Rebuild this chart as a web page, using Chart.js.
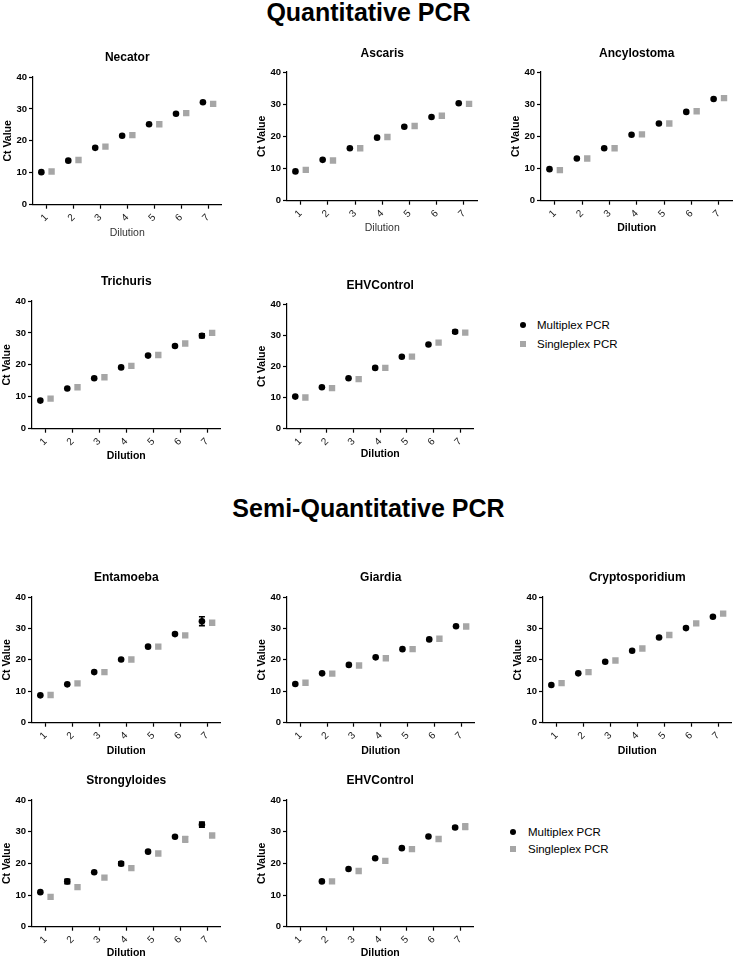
<!DOCTYPE html>
<html>
<head>
<meta charset="utf-8">
<script src="https://cdn.jsdelivr.net/npm/chart.js@4/dist/chart.umd.min.js"></script>
<style>
  html, body { margin: 0; padding: 0; background: #fff; }
  body { width: 737px; height: 959px; position: relative; overflow: hidden; font-family: "Liberation Sans", Arial, sans-serif; }
  canvas { position: absolute; }
  .heading { position: absolute; left: 0; width: 737px; text-align: center; font-weight: bold; font-size: 25px; line-height: 28px; color: #000; }
  .legend { position: absolute; font-size: 11.5px; color: #000; }
  .legend .row { position: absolute; left: 0; white-space: nowrap; height: 14px; line-height: 14px; }
  .legend .mk { position: absolute; top: 4px; width: 6px; height: 6px; }
  .legend .circ { background: #000; border-radius: 50%; }
  .legend .sq { background: #a6a6a6; }
</style>
</head>
<body>
<div class="heading" style="top:-2px;">Quantitative PCR</div>
<div class="heading" style="top:494px;">Semi-Quantitative PCR</div>

<div class="legend" style="left:520px; top:318px;">
  <div class="row" style="top:0px;"><span class="mk circ" style="left:0px;"></span><span style="position:absolute;left:17px;">Multiplex PCR</span></div>
  <div class="row" style="top:19px;"><span class="mk sq" style="left:0px;"></span><span style="position:absolute;left:17px;">Singleplex PCR</span></div>
</div>
<div class="legend" style="left:510px; top:825px;">
  <div class="row" style="top:0px;"><span class="mk circ" style="left:0px;"></span><span style="position:absolute;left:18px;">Multiplex PCR</span></div>
  <div class="row" style="top:17px;"><span class="mk sq" style="left:0px;"></span><span style="position:absolute;left:18px;">Singleplex PCR</span></div>
</div>

<script>
// ---------------- DATA ----------------
const dilutions = [1, 2, 3, 4, 5, 6, 7];
const dilutionLabels = ['1', '2', '3', '4', '5', '6', '7'];
const seriesNames = ['Multiplex PCR', 'Singleplex PCR'];
const yTicks = [0, 10, 20, 30, 40];

const necatorMulti      = [10.2, 13.8, 17.8, 21.6, 25.2, 28.5, 32.1];
const necatorSingle     = [10.4, 14.0, 18.2, 21.8, 25.2, 28.7, 31.6];
const ascarisMulti      = [9.1, 12.7, 16.3, 19.6, 23.0, 26.0, 30.3];
const ascarisSingle     = [9.6, 12.5, 16.3, 19.8, 23.2, 26.4, 30.1];
const ancylostomaMulti  = [9.8, 13.1, 16.3, 20.5, 24.0, 27.6, 31.6];
const ancylostomaSingle = [9.5, 13.1, 16.3, 20.6, 24.0, 27.8, 31.9];
const trichurisMulti    = [8.8, 12.6, 15.8, 19.2, 22.9, 25.9, 29.1];
const trichurisSingle   = [9.4, 13.0, 16.1, 19.7, 23.1, 26.7, 30.0];
const ehvQMulti         = [10.3, 13.3, 16.2, 19.5, 23.1, 27.0, 31.1];
const ehvQSingle        = [10.0, 13.0, 15.9, 19.5, 23.1, 27.6, 30.8];
const entamoebaMulti    = [8.7, 12.2, 16.1, 20.1, 24.2, 28.2, 32.3];
const entamoebaSingle   = [8.8, 12.5, 16.1, 20.1, 24.2, 27.8, 31.8];
const giardiaMulti      = [12.3, 15.7, 18.4, 20.8, 23.4, 26.5, 30.7];
const giardiaSingle     = [12.7, 15.6, 18.2, 20.5, 23.4, 26.7, 30.6];
const cryptoMulti       = [12.0, 15.7, 19.4, 22.9, 27.1, 30.1, 33.7];
const cryptoSingle      = [12.6, 16.1, 19.8, 23.6, 27.9, 31.6, 34.7];
const strongyMulti      = [10.9, 14.3, 17.2, 19.9, 23.7, 28.4, 32.2];
const strongySingle     = [9.4, 12.5, 15.5, 18.5, 23.1, 27.6, 28.8];
const ehvSMulti         = [null, 14.3, 18.2, 21.6, 24.8, 28.5, 31.3];
const ehvSSingle        = [null, 14.3, 17.6, 20.8, 24.5, 27.7, 31.6];

// error bars (SEM); 0 = not visible
const noErr              = [0, 0, 0, 0, 0, 0, 0];
const trichurisMultiErr  = [0, 0, 0, 0, 0, 0, 0.6];
const ehvQMultiErr       = [0, 0, 0, 0, 0, 0, 0.5];
const entamoebaMultiErr  = [0, 0, 0, 0, 0, 0, 1.4];
const strongyMultiErr    = [0, 0.7, 0, 0.6, 0, 0, 0.8];
const strongySingleErr   = [0, 0, 0, 0, 0, 0.9, 0];
const ehvSMultiErr       = [0, 0, 0, 0, 0, 0, 0.3];
const ehvSSingleErr      = [0, 0, 0, 0, 0, 0, 0.9];

// ---------------- PANELS ----------------
const panels = [
  { title: 'Necator',         multi: necatorMulti,     single: necatorSingle,     mErr: noErr,             sErr: noErr },
  { title: 'Ascaris',         multi: ascarisMulti,     single: ascarisSingle,     mErr: noErr,             sErr: noErr },
  { title: 'Ancylostoma',     multi: ancylostomaMulti, single: ancylostomaSingle, mErr: noErr,             sErr: noErr },
  { title: 'Trichuris',       multi: trichurisMulti,   single: trichurisSingle,   mErr: trichurisMultiErr, sErr: noErr },
  { title: 'EHVControl',      multi: ehvQMulti,        single: ehvQSingle,        mErr: ehvQMultiErr,      sErr: noErr },
  { title: 'Entamoeba',       multi: entamoebaMulti,   single: entamoebaSingle,   mErr: entamoebaMultiErr, sErr: noErr },
  { title: 'Giardia',         multi: giardiaMulti,     single: giardiaSingle,     mErr: noErr,             sErr: noErr },
  { title: 'Cryptosporidium', multi: cryptoMulti,      single: cryptoSingle,      mErr: noErr,             sErr: noErr },
  { title: 'Strongyloides',   multi: strongyMulti,     single: strongySingle,     mErr: strongyMultiErr,   sErr: strongySingleErr },
  { title: 'EHVControl',      multi: ehvSMulti,        single: ehvSSingle,        mErr: ehvSMultiErr,      sErr: ehvSSingleErr }
];

// layout of each panel (plot area box, title centre, axis-title centre)
const layout = [
  { l: 33,  r: 223, t: 77,  b: 205, ty: 57,  dy: 233, boldX: false },
  { l: 287, r: 479, t: 72,  b: 201, ty: 53,  dy: 228, boldX: false },
  { l: 541, r: 734, t: 72,  b: 201, ty: 53,  dy: 228, boldX: true },
  { l: 32,  r: 222, t: 301, b: 429, ty: 281, dy: 456, boldX: true },
  { l: 287, r: 475, t: 304, b: 429, ty: 285, dy: 454, boldX: true },
  { l: 32,  r: 222, t: 597, b: 723, ty: 577, dy: 751, boldX: true },
  { l: 287, r: 476, t: 597, b: 723, ty: 577, dy: 751, boldX: true },
  { l: 543, r: 733, t: 597, b: 723, ty: 577, dy: 751, boldX: true },
  { l: 32,  r: 222, t: 800, b: 927, ty: 780, dy: 953, boldX: true },
  { l: 287, r: 475, t: 800, b: 927, ty: 780, dy: 953, boldX: true }
];

const FONT = '"Liberation Sans", Arial, sans-serif';
const YW = 32, RP = 3;
const TITLE_SIZE = 12, AX_SIZE = 10.5;
const DODGE = 0.19;

const errorBarPlugin = {
  id: 'errorBars',
  afterDatasetsDraw(chart) {
    const ctx = chart.ctx;
    const xs = chart.scales.x, ys = chart.scales.y;
    chart.data.datasets.forEach((ds) => {
      if (!ds.errors) return;
      ctx.save();
      ctx.strokeStyle = ds.errColor;
      ctx.lineWidth = 1.6;
      ds.data.forEach((p, i) => {
        const e = ds.errors[i];
        if (p.y === null || !e) return;
        const x = xs.getPixelForValue(p.x);
        const y1 = ys.getPixelForValue(p.y - e);
        const y2 = ys.getPixelForValue(p.y + e);
        ctx.beginPath();
        ctx.moveTo(x, y1); ctx.lineTo(x, y2);
        ctx.moveTo(x - 3, y1); ctx.lineTo(x + 3, y1);
        ctx.moveTo(x - 3, y2); ctx.lineTo(x + 3, y2);
        ctx.stroke();
      });
      ctx.restore();
    });
  }
};

panels.forEach((p, idx) => {
  const L = layout[idx];
  const cLeft = L.l - YW;
  const cTop = Math.round(L.ty - TITLE_SIZE * 1.2 / 2);
  const cW = L.r - cLeft + RP;
  const xH = L.dy + AX_SIZE * 1.2 / 2 - L.b;
  const cH = Math.round(L.b + xH - cTop);
  const titlePadBottom = L.t - cTop - TITLE_SIZE * 1.2;

  const canvas = document.createElement('canvas');
  canvas.width = cW; canvas.height = cH;
  canvas.style.left = cLeft + 'px';
  canvas.style.top = cTop + 'px';
  canvas.style.width = cW + 'px';
  canvas.style.height = cH + 'px';
  document.body.appendChild(canvas);

  const toPts = (arr, off) => dilutions.map((d, i) => ({ x: d + off, y: arr[i] }));

  new Chart(canvas, {
    type: 'scatter',
    data: {
      datasets: [
        { label: seriesNames[0], data: toPts(p.multi, -DODGE), pointStyle: 'circle', pointRadius: 3.3,
          backgroundColor: '#000', borderColor: '#000', borderWidth: 0, pointHoverRadius: 3.3,
          errors: p.mErr, errColor: '#000' },
        { label: seriesNames[1], data: toPts(p.single, DODGE), pointStyle: 'rect', pointRadius: 4.5,
          backgroundColor: '#a6a6a6', borderColor: '#a6a6a6', borderWidth: 0, pointHoverRadius: 4.5,
          errors: p.sErr, errColor: '#a6a6a6' }
      ]
    },
    options: {
      responsive: false,
      animation: false,
      events: [],
      layout: { padding: { left: 0, right: RP, top: 0, bottom: 0 } },
      plugins: {
        legend: { display: false },
        tooltip: { enabled: false },
        title: {
          display: true, text: p.title, fullSize: false, color: '#000',
          font: { family: FONT, size: TITLE_SIZE, weight: 'bold', lineHeight: 1.2 },
          padding: { top: 0, bottom: titlePadBottom }
        }
      },
      scales: {
        x: {
          type: 'linear', min: 0.5, max: 7.5,
          afterBuildTicks: (s) => { s.ticks = dilutions.map(v => ({ value: v })); },
          afterFit: (s) => { s.height = xH; },
          border: { display: true, color: '#000', width: 1.2 },
          grid: { display: true, drawOnChartArea: false, drawTicks: true, tickLength: 4, color: '#000', tickWidth: 1.2 },
          ticks: {
            autoSkip: false, minRotation: 45, maxRotation: 45, padding: 3, color: '#222',
            font: { family: FONT, size: 10 },
            callback: (v) => dilutionLabels[dilutions.indexOf(v)]
          },
          title: {
            display: true, text: 'Dilution', color: L.boldX ? '#000' : '#333',
            font: { family: FONT, size: AX_SIZE, weight: L.boldX ? 'bold' : 'normal', lineHeight: 1.2 },
            padding: { top: 0, bottom: 0 }
          }
        },
        y: {
          type: 'linear', min: 0, max: 40,
          afterBuildTicks: (s) => { s.ticks = yTicks.map(v => ({ value: v })); },
          afterFit: (s) => { s.width = YW; },
          border: { display: true, color: '#000', width: 1.2 },
          grid: { display: true, drawOnChartArea: false, drawTicks: true, tickLength: 4, color: '#000', tickWidth: 1.2 },
          ticks: { padding: 2, color: '#000', font: { family: FONT, size: 9.5, weight: 'bold' } },
          title: {
            display: true, text: 'Ct Value', color: '#000',
            font: { family: FONT, size: AX_SIZE, weight: 'bold', lineHeight: 1.2 },
            padding: { top: 1, bottom: 0 }
          }
        }
      }
    },
    plugins: [errorBarPlugin]
  });
});
</script>
</body>
</html>
